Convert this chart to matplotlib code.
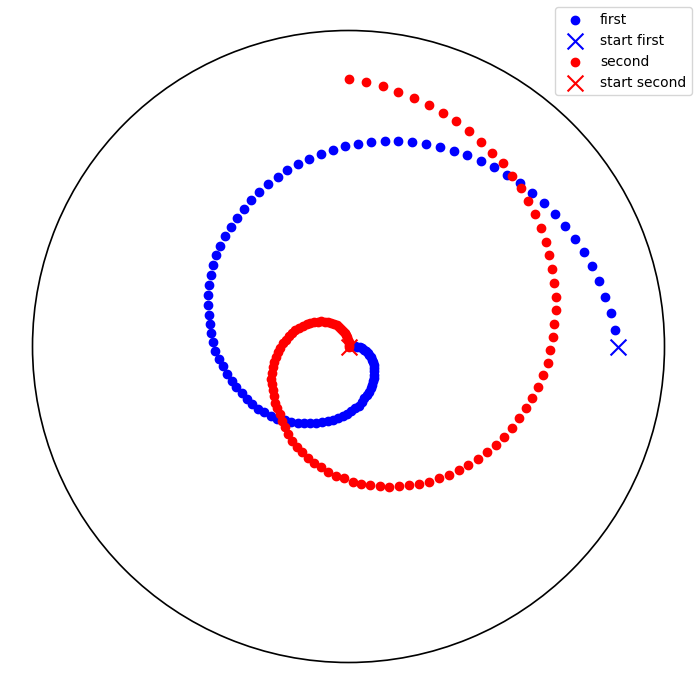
import numpy as np
import matplotlib.pyplot as plt

# samples are taken every 3.635 degrees (about 99 per turn)
step_deg = 3.635

# first spiral: start point (theta deg, r) and radii of the following samples
first_start = (0.0, 269.5)
first_r = [267.3, 265.0, 261.6, 259.0, 256.5, 253.7, 250.6, 247.5, 245.5, 242.6,
           239.6, 236.8, 233.6, 231.3, 228.2, 224.9, 222.3, 219.3, 217.1, 214.1,
           211.4, 208.6, 206.0, 202.9, 200.7, 197.3, 194.6, 191.8, 189.8, 187.0,
           183.7, 181.4, 178.4, 176.0, 173.3, 170.5, 168.2, 165.6, 163.0, 160.5,
           157.6, 154.7, 152.3, 149.2, 146.4, 143.1, 140.7, 138.5, 135.3, 133.6,
           130.1, 127.1, 124.2, 121.6, 119.2, 116.4, 114.4, 112.0, 109.6, 106.9,
           104.2, 101.2, 97.5, 94.7, 91.5, 88.3, 85.5, 82.8, 80.2, 77.5,
           74.8, 72.3, 69.8, 67.2, 64.3, 62.0, 60.0, 56.8, 54.2, 52.2,
           49.8, 47.3, 44.8, 42.6, 40.3, 38.2, 35.8, 33.6, 31.4, 29.2,
           27.0, 24.8, 22.6, 20.4, 18.2, 16.0, 13.6, 11.2, 8.8, 6.4,
           4.0, 1.6]

# second spiral: starting angle (deg) and radii, first value is the start
second_theta0 = 82.7
second_r = [0.0, 1.8, 4.3, 6.8, 9.3, 11.8, 14.3, 16.8, 19.3, 21.8,
            24.3, 26.8, 29.3, 32.0, 34.5, 37.0, 39.6, 42.3, 44.8, 47.4,
            50.2, 53.0, 55.6, 58.0, 60.1, 62.5, 65.4, 68.1, 70.6, 73.3,
            76.0, 78.6, 81.1, 83.5, 85.6, 87.6, 89.7, 92.8, 94.8, 96.6,
            99.5, 102.5, 106.2, 110.2, 112.9, 115.4, 118.7, 121.2, 124.0, 127.3,
            130.2, 132.0, 135.4, 138.0, 140.6, 143.4, 146.2, 148.6, 151.5, 154.7,
            157.2, 159.7, 162.8, 165.6, 168.4, 171.3, 173.9, 177.2, 179.8, 182.6,
            185.2, 188.2, 190.7, 193.9, 196.8, 200.1, 201.8, 205.0, 207.1, 210.4,
            213.1, 215.4, 218.1, 220.7, 223.3, 226.2, 228.9, 230.8, 233.9, 236.6,
            239.5, 241.2, 243.5, 247.1, 249.8, 252.1, 254.8, 257.2, 259.5, 262.9,
            265.3, 267.7]

theta1 = np.deg2rad(step_deg * np.arange(1, len(first_r) + 1))
theta2 = np.deg2rad(second_theta0 + step_deg * np.arange(len(second_r)))

fig = plt.figure(figsize=(6.97, 6.93), dpi=100)
ax = fig.add_axes([32.5/697, 30.5/693, 632/697, 632/693], projection='polar')

ax.scatter(theta1, first_r, c='blue', label='first')
ax.scatter(np.deg2rad(first_start[0]), first_start[1], c='blue', marker='x', s=130, label='start first')
ax.scatter(theta2, second_r, c='red', label='second')
ax.scatter(theta2[0], second_r[0], c='red', marker='x', s=130, label='start second')

ax.set_ylim(0, 316)
ax.set_xticks([])
ax.set_yticks([])
ax.tick_params(axis='both', which='both', length=0)
ax.grid(False)
ax.spines['polar'].set_linewidth(1.2)
ax.spines['polar'].set_capstyle('butt')

fig.legend(loc='upper right', bbox_to_anchor=(691.7/697, 1 - 7.3/693), borderaxespad=0)
fig.savefig('out.png')
